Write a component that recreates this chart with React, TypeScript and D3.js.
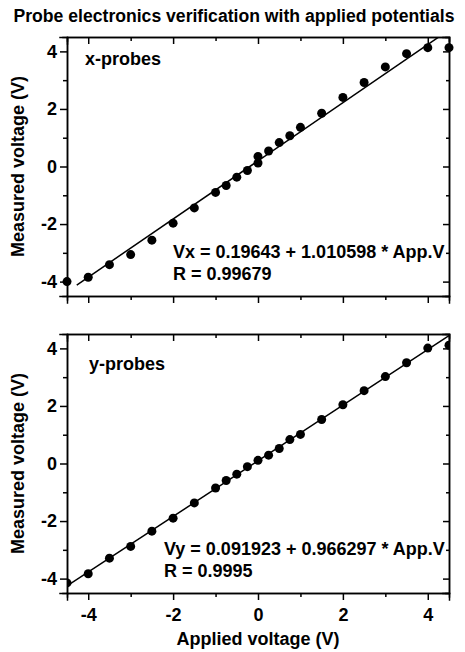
import React, { useEffect, useRef } from 'react'
import * as d3 from 'd3'

// applied potentials and measured voltages
const appliedX = [-4.5, -4, -3.5, -3, -2.5, -2, -1.5, -1, -0.75, -0.5, -0.25, 0, 0, 0.25, 0.5, 0.75, 1, 1.5, 2, 2.5, 3, 3.5, 4, 4.5]
const measuredX = [-4.0, -3.85, -3.41, -3.06, -2.56, -1.97, -1.44, -0.9, -0.66, -0.37, -0.14, 0.12, 0.35, 0.54, 0.83, 1.07, 1.36, 1.85, 2.4, 2.92, 3.46, 3.92, 4.13, 4.13]
const appliedY = [-4.5, -4, -3.5, -3, -2.5, -2, -1.5, -1, -0.75, -0.5, -0.25, 0, 0.25, 0.5, 0.75, 1, 1.5, 2, 2.5, 3, 3.5, 4, 4.5]
const measuredY = [-4.15, -3.83, -3.29, -2.88, -2.35, -1.9, -1.37, -0.85, -0.59, -0.37, -0.11, 0.11, 0.29, 0.52, 0.83, 1.01, 1.53, 2.04, 2.53, 3.02, 3.5, 4.01, 4.11]

const fitX = { intercept: 0.19643, slope: 1.010598, from: -4.27, to: 4.5 }
const fitY = { intercept: 0.091923, slope: 0.966297, from: -4.5, to: 4.5 }

const majorTicks = [-4, -2, 0, 2, 4]
const minorTicks = [-3, -1, 1, 3]

const W = 465
const H = 652
const FONT = 'Arial, "Liberation Sans", sans-serif'
const FS = 18

const App = () => {
  const ref = useRef<SVGSVGElement>(null)

  useEffect(() => {
    const svg = d3.select(ref.current)
    svg.selectAll('*').remove()

    const left = 67, right = 449
    const x = d3.scaleLinear().domain([-4.5, 4.5]).range([left, right])

    svg.append('text')
      .attr('x', 234).attr('y', 22)
      .attr('text-anchor', 'middle')
      .attr('font-size', 17.6).attr('font-weight', 'bold')
      .text('Probe electronics verification with applied potentials')

    const panels = [
      { top: 37, bottom: 296, xs: appliedX, ys: measuredX, fit: fitX, label: 'x-probes', labelX: 85, labelY: 65,
        eq: 'Vx = 0.19643 + 1.010598 * App.V', r: 'R = 0.99679', eqX: 173, eqY: 258, clipPts: false, xLabels: false },
      { top: 334, bottom: 593, xs: appliedY, ys: measuredY, fit: fitY, label: 'y-probes', labelX: 89, labelY: 370,
        eq: 'Vy = 0.091923 + 0.966297 * App.V', r: 'R = 0.9995', eqX: 164, eqY: 555, clipPts: true, xLabels: true },
    ]

    panels.forEach((p, i) => {
      const y = d3.scaleLinear().domain([-4.5, 4.5]).range([p.bottom, p.top])
      const g = svg.append('g')
      const clipId = `clip-${i}`
      g.append('clipPath').attr('id', clipId)
        .append('rect')
        .attr('x', left).attr('y', p.top)
        .attr('width', right - left).attr('height', p.bottom - p.top)

      // axes: outward on left/bottom, inward on top/right
      const mk = (axis, major) => axis.tickValues(major ? majorTicks : minorTicks)
        .tickFormat(major ? (d) => String(d) : () => '')
      const axes = [
        { a: (m) => mk(d3.axisLeft(y), m).tickSize(m ? 7 : 4), t: `translate(${left},0)`, labels: true },
        { a: (m) => mk(d3.axisRight(y), m).tickSize(m ? -6 : -3), t: `translate(${right},0)`, labels: false },
        { a: (m) => mk(d3.axisBottom(x), m).tickSize(m ? 7 : 4), t: `translate(0,${p.bottom})`, labels: p.xLabels },
        { a: (m) => mk(d3.axisTop(x), m).tickSize(m ? -7 : -4), t: `translate(0,${p.top})`, labels: false },
      ]
      axes.forEach(ax => {
        ;[true, false].forEach(m => {
          const ag = g.append('g').attr('transform', ax.t).call(ax.a(m))
          ag.selectAll('path').attr('stroke-width', 1.5)
          ag.selectAll('line').attr('stroke-width', 1.5)
          ag.selectAll('text')
            .attr('font-size', FS).attr('font-weight', 'bold').attr('font-family', FONT)
            .style('display', ax.labels && m ? null : 'none')
        })
      })
      g.selectAll('.domain').attr('stroke-linecap', 'square')
      g.selectAll('text').filter(function () { return (this as SVGTextElement).getAttribute('dy') === '0.71em' })
        .attr('dy', '1em')

      const line = d3.line<number>().x(d => x(d)).y(d => y(p.fit.intercept + p.fit.slope * d))
      g.append('path')
        .attr('d', line([p.fit.from, p.fit.to]))
        .attr('clip-path', `url(#${clipId})`)
        .attr('stroke', '#000').attr('stroke-width', 1.5).attr('fill', 'none')

      g.append('g')
        .attr('clip-path', p.clipPts ? `url(#${clipId})` : null)
        .selectAll('circle')
        .data(p.xs)
        .join('circle')
        .attr('cx', d => x(d))
        .attr('cy', (d, j) => y(p.ys[j]))
        .attr('r', 4.5)
        .attr('fill', '#000')

      g.append('text')
        .attr('x', p.labelX).attr('y', p.labelY)
        .attr('font-size', FS).attr('font-weight', 'bold')
        .text(p.label)
      g.append('text')
        .attr('x', p.eqX).attr('y', p.eqY)
        .attr('font-size', FS).attr('font-weight', 'bold')
        .text(p.eq)
      g.append('text')
        .attr('x', p.eqX).attr('y', p.eqY + 22)
        .attr('font-size', FS).attr('font-weight', 'bold')
        .text(p.r)

      g.append('text')
        .attr('transform', `translate(24,${(p.top + p.bottom) / 2}) rotate(-90)`)
        .attr('text-anchor', 'middle')
        .attr('font-size', FS).attr('font-weight', 'bold')
        .text('Measured voltage (V)')
    })

    svg.append('text')
      .attr('x', 258).attr('y', 645)
      .attr('text-anchor', 'middle')
      .attr('font-size', FS).attr('font-weight', 'bold')
      .text('Applied voltage (V)')
  }, [])

  return (
    <svg ref={ref} width={W} height={H} fontFamily={FONT}
      style={{ position: 'absolute', left: 0, top: 0, background: '#fff' }} />
  )
}

export default App
